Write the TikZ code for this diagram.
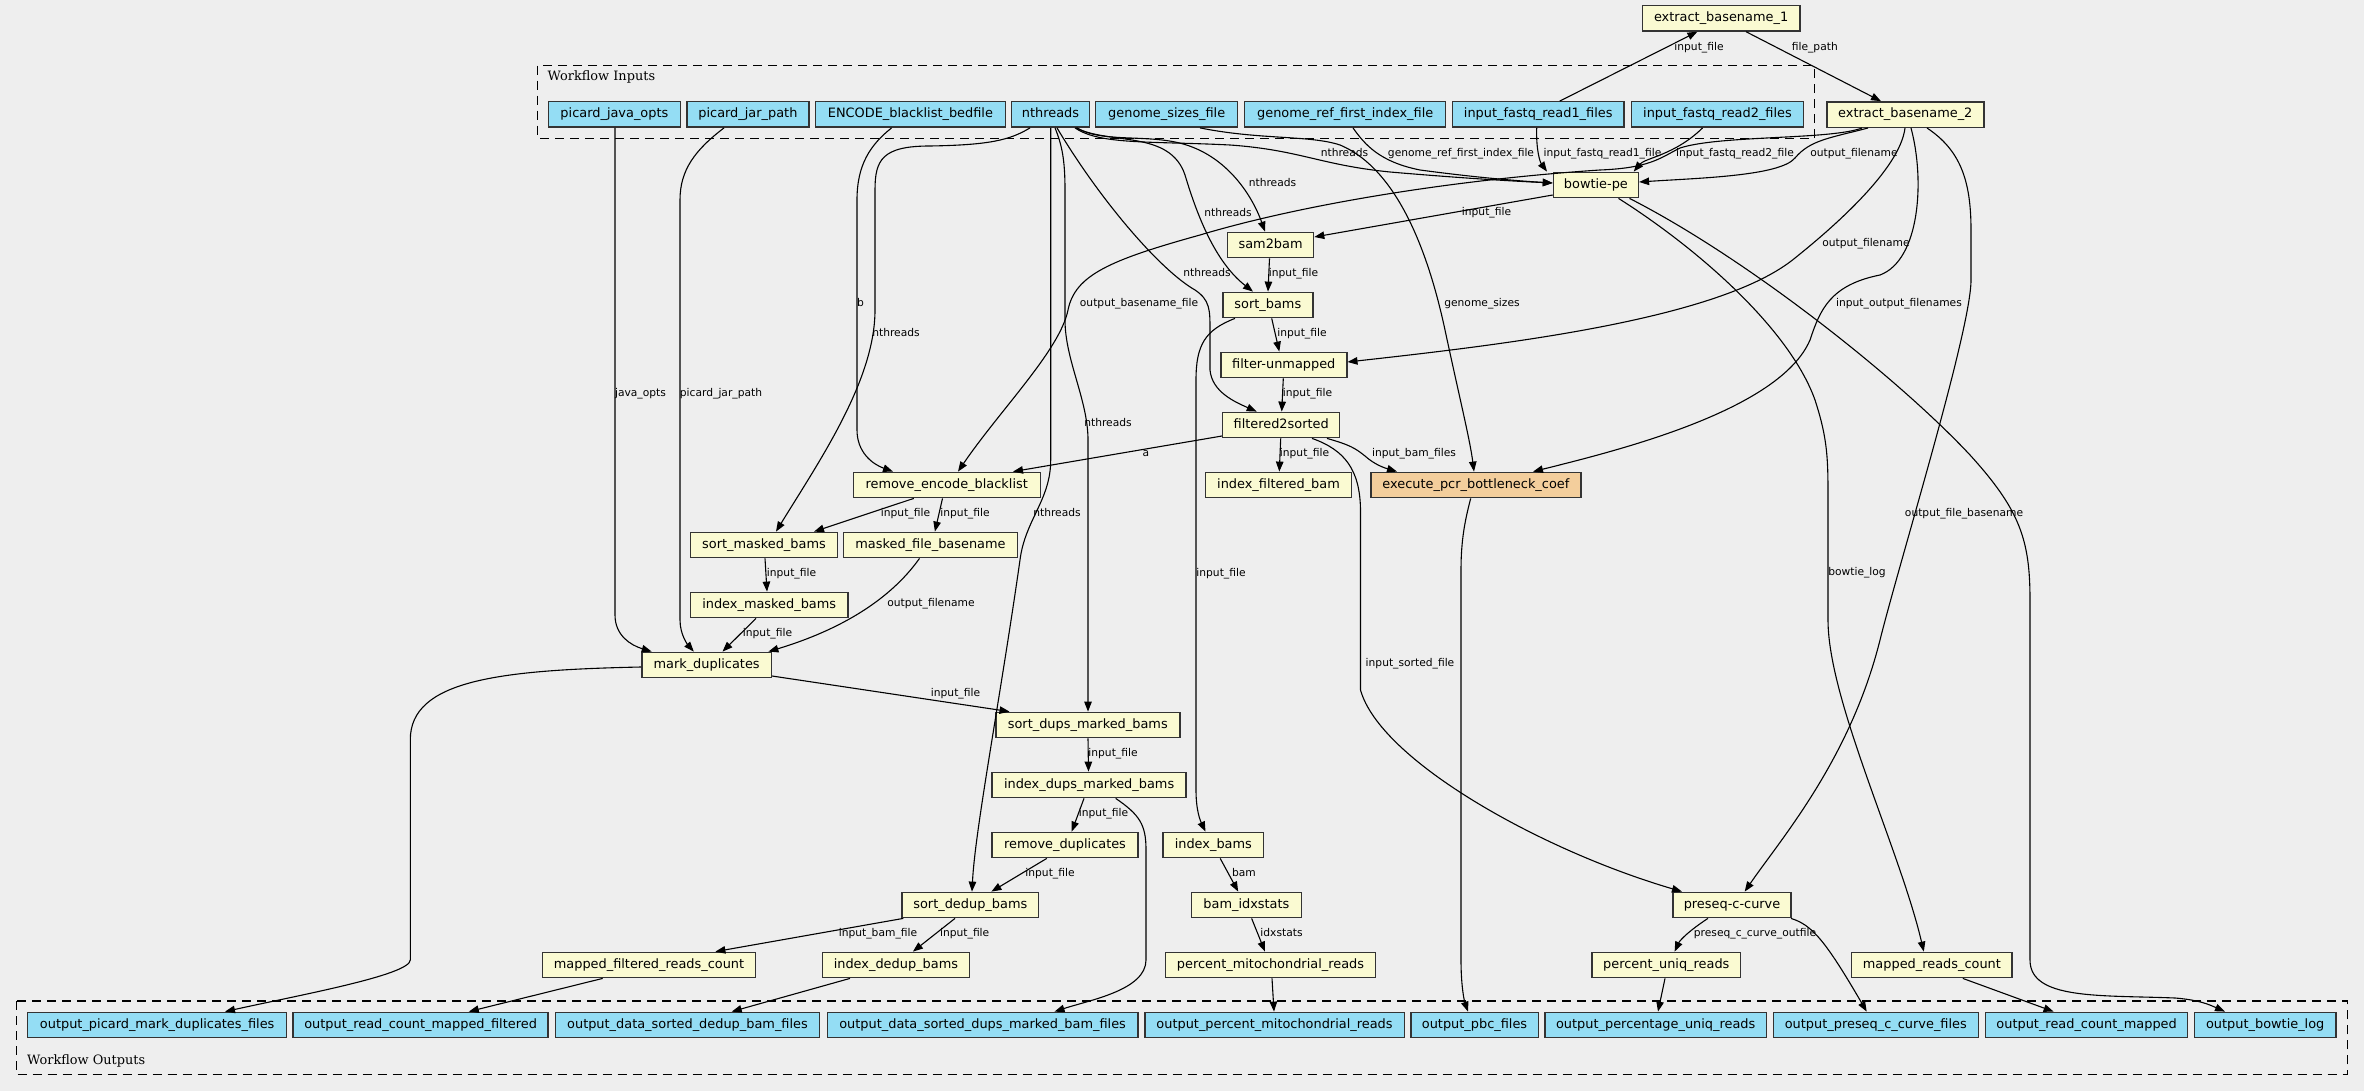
\documentclass[tikz,border=0pt]{standalone}
\usepackage{fontspec}
\usetikzlibrary{arrows.meta}
\newfontfamily\sansf{DejaVu Sans}
\newfontfamily\seriff{DejaVu Serif}
\definecolor{bgc}{HTML}{EEEEEE}
\definecolor{inblue}{HTML}{94DDF4}
\definecolor{stepyel}{HTML}{FAFAD2}
\definecolor{pcrorange}{HTML}{F3CE9C}
\definecolor{bord}{HTML}{333333}
\tikzset{
  box/.style={draw=bord, line width=1.4pt, minimum height=25.4pt, inner sep=0pt,
    font=\sansf\fontsize{12.9}{15}\selectfont, text height=9.6pt, text depth=2.9pt},
  iobox/.style={box, fill=inblue},
  stepbox/.style={box, fill=stepyel},
  pcrbox/.style={box, fill=pcrorange},
  lbl/.style={inner sep=0pt, font=\sansf\fontsize{10.7}{12}\selectfont, text height=7.8pt, text depth=2.4pt},
  edge/.style={draw=black, line width=1.1pt, -{Triangle[length=10pt,width=7.5pt]}},
  cluster/.style={draw=black, line width=1.2pt, dash pattern=on 9pt off 6pt},
  ctitle/.style={inner sep=0pt, anchor=west, font=\seriff\fontsize{12.9}{15}\selectfont}
}
\begin{document}
\begin{tikzpicture}[x=1pt,y=-1pt]
\fill[bgc] (0,0) rectangle (2364,1091);
\useasboundingbox (0,0) rectangle (2364,1091);

% clusters
\draw[cluster] (537.6,65.7) rectangle (1814.8,138.3);
\node[ctitle] (tin) at (547.5,77) {Workflow Inputs};
\draw[cluster] (16.3,1001) rectangle (2347.5,1074.6);
\node[ctitle] (tout) at (27,1061) {Workflow Outputs};

% inputs
\node[iobox, minimum width=132pt] (picard_java_opts) at (614.4,114.5) {picard\_java\_opts};
\node[iobox, minimum width=122pt] (picard_jar_path) at (747.9,114.5) {picard\_jar\_path};
\node[iobox, minimum width=190pt] (encode) at (910.4,114.5) {ENCODE\_blacklist\_bedfile};
\node[iobox, minimum width=78.5pt] (nthreads) at (1050.5,114.5) {nthreads};
\node[iobox, minimum width=142pt] (genome_sizes) at (1166.7,114.5) {genome\_sizes\_file};
\node[iobox, minimum width=201pt] (genome_ref) at (1345.2,114.5) {genome\_ref\_first\_index\_file};
\node[iobox, minimum width=171.5pt] (fastq1) at (1538.2,114.5) {input\_fastq\_read1\_files};
\node[iobox, minimum width=172pt] (fastq2) at (1717.5,114.5) {input\_fastq\_read2\_files};

% steps
\node[stepbox, minimum width=157.7pt] (eb1) at (1721.1,18.3) {extract\_basename\_1};
\node[stepbox, minimum width=157pt] (eb2) at (1905.3,114.6) {extract\_basename\_2};
\node[stepbox, minimum width=85pt] (bowtie) at (1595.9,185) {bowtie-pe};
\node[stepbox, minimum width=86pt] (sam2bam) at (1270.6,245) {sam2bam};
\node[stepbox, minimum width=90pt] (sort_bams) at (1267.8,305) {sort\_bams};
\node[stepbox, minimum width=126pt] (filter_unmapped) at (1283.8,365) {filter-unmapped};
\node[stepbox, minimum width=117pt] (filtered2sorted) at (1281.2,425) {filtered2sorted};
\node[stepbox, minimum width=187pt] (remove_encode) at (946.7,485) {remove\_encode\_blacklist};
\node[stepbox, minimum width=146pt] (index_filtered_bam) at (1278.5,485) {index\_filtered\_bam};
\node[pcrbox, minimum width=210pt] (execute_pcr) at (1475.9,485) {execute\_pcr\_bottleneck\_coef};
\node[stepbox, minimum width=147pt] (sort_masked_bams) at (764,545) {sort\_masked\_bams};
\node[stepbox, minimum width=174pt] (masked_file_basename) at (930.5,545) {masked\_file\_basename};
\node[stepbox, minimum width=157.4pt] (index_masked_bams) at (769.2,605) {index\_masked\_bams};
\node[stepbox, minimum width=129.5pt] (mark_duplicates) at (706.6,665) {mark\_duplicates};
\node[stepbox, minimum width=184pt] (sort_dups_marked_bams) at (1087.8,725) {sort\_dups\_marked\_bams};
\node[stepbox, minimum width=194pt] (index_dups_marked_bams) at (1089.1,785) {index\_dups\_marked\_bams};
\node[stepbox, minimum width=146.3pt] (remove_duplicates) at (1065,845) {remove\_duplicates};
\node[stepbox, minimum width=100.8pt] (index_bams) at (1213.3,845) {index\_bams};
\node[stepbox, minimum width=136.8pt] (sort_dedup_bams) at (970.3,905) {sort\_dedup\_bams};
\node[stepbox, minimum width=110.4pt] (bam_idxstats) at (1246.4,905) {bam\_idxstats};
\node[stepbox, minimum width=118pt] (preseq) at (1732,905) {preseq-c-curve};
\node[stepbox, minimum width=213pt] (mapped_filtered_reads_count) at (649,965) {mapped\_filtered\_reads\_count};
\node[stepbox, minimum width=147pt] (index_dedup_bams) at (895.9,965) {index\_dedup\_bams};
\node[stepbox, minimum width=210pt] (percent_mito) at (1270.5,965) {percent\_mitochondrial\_reads};
\node[stepbox, minimum width=148.5pt] (percent_uniq) at (1666.3,965) {percent\_uniq\_reads};
\node[stepbox, minimum width=160.5pt] (mapped_reads_count) at (1931.9,965) {mapped\_reads\_count};

% outputs
\node[iobox, minimum width=259pt] (out_picard) at (157.2,1025) {output\_picard\_mark\_duplicates\_files};
\node[iobox, minimum width=255pt] (out_rcmf) at (420.6,1025) {output\_read\_count\_mapped\_filtered};
\node[iobox, minimum width=264pt] (out_dedup) at (687.5,1025) {output\_data\_sorted\_dedup\_bam\_files};
\node[iobox, minimum width=310.5pt] (out_dups) at (982.6,1025) {output\_data\_sorted\_dups\_marked\_bam\_files};
\node[iobox, minimum width=259.4pt] (out_mito) at (1274.5,1025) {output\_percent\_mitochondrial\_reads};
\node[iobox, minimum width=127.4pt] (out_pbc) at (1474.5,1025) {output\_pbc\_files};
\node[iobox, minimum width=221.7pt] (out_uniq) at (1655.7,1025) {output\_percentage\_uniq\_reads};
\node[iobox, minimum width=205pt] (out_preseq) at (1875.8,1025) {output\_preseq\_c\_curve\_files};
\node[iobox, minimum width=202pt] (out_rcm) at (2086.6,1025) {output\_read\_count\_mapped};
\node[iobox, minimum width=141.8pt] (out_bowtie) at (2265.2,1025) {output\_bowtie\_log};

% edges
\draw[edge] (fastq1.north -| 1559.7,0) -- (eb1.south -| 1697.4,0);
\draw[edge] (eb1.south -| 1746,0) -- (eb2.north -| 1881,0);
\draw[edge] (nthreads.south -| 1075,0) .. controls (1100,145) and (1150,141) .. (1230,145) .. controls (1300,150) and (1320,165) .. (1390,172) .. controls (1460,178) and (1510,181) .. (bowtie.west |- 0,183);
\draw[edge] (nthreads.south -| 1077,0) .. controls (1100,142) and (1140,135) .. (1175,142) .. controls (1225,152) and (1252,195) .. (sam2bam.north -| 1265,0);
\draw[edge] (nthreads.south -| 1076,0) .. controls (1110,145) and (1170,130) .. (1185,175) .. controls (1197,215) and (1215,262) .. (sort_bams.north -| 1253,0);
\draw[edge] (nthreads.south -| 1057,0) .. controls (1100,200) and (1160,270) .. (1195,290) .. controls (1210,300) and (1210,310) .. (1210,330) -- (1210,370) .. controls (1212,392) and (1235,402) .. (filtered2sorted.north -| 1256.7,0);
\draw[edge] (nthreads.south -| 1030,0) .. controls (1010,140) and (990,145) .. (930,146) .. controls (882,146) and (875,160) .. (875,190) -- (875,310) .. controls (875,380) and (820,460) .. (sort_masked_bams.north -| 776,0);
\draw[edge] (nthreads.south -| 1055,0) .. controls (1062,145) and (1065,160) .. (1065,190) -- (1065,320) .. controls (1065,360) and (1088,400) .. (1088,440) -- (sort_dups_marked_bams.north -| 1088,0);
\draw[edge] (nthreads.south -| 1050.7,0) -- (1050.7,460) .. controls (1050.7,500) and (1025,520) .. (1020,560) .. controls (1000,700) and (975,830) .. (sort_dedup_bams.north -| 972,0);
\draw[edge] (encode.south -| 891.6,0) .. controls (870,145) and (857,165) .. (857,200) -- (857,430) .. controls (857,452) and (872,464) .. (remove_encode.north -| 893,0);
\draw[edge] (genome_sizes.south -| 1200,0) .. controls (1260,140) and (1310,135) .. (1340,145) .. controls (1400,170) and (1430,260) .. (1445,330) .. controls (1460,400) and (1470,440) .. (execute_pcr.north -| 1474,0);
\draw[edge] (genome_ref.south -| 1353,0) .. controls (1365,145) and (1380,162) .. (1420,170) .. controls (1480,178) and (1520,181) .. (bowtie.west |- 0,183);
\draw[edge] (fastq1.south -| 1536.7,0) .. controls (1536,150) and (1540,162) .. (bowtie.north -| 1547,0);
\draw[edge] (fastq2.south -| 1702.6,0) .. controls (1675,155) and (1645,158) .. (bowtie.north -| 1633.7,0);
\draw[edge] (eb2.south -| 1868,0) .. controls (1830,138) and (1810,140) .. (1795,158) .. controls (1780,176) and (1700,178) .. (bowtie.east |- 0,182);
\draw[edge] (eb2.south -| 1862,0) .. controls (1830,140) and (1720,135) .. (1680,148) .. controls (1660,158) and (1650,168) .. (1600,170) .. controls (1450,180) and (1300,205) .. (1200,235) .. controls (1110,260) and (1075,275) .. (1068,310) .. controls (1060,350) and (1000,410) .. (remove_encode.north -| 958,0);
\draw[edge] (eb2.south -| 1905,0) .. controls (1900,170) and (1830,230) .. (1795,258) .. controls (1720,320) and (1500,345) .. (filter_unmapped.east |- 0,362);
\draw[edge] (eb2.south -| 1911,0) .. controls (1925,180) and (1920,260) .. (1880,275) .. controls (1830,285) and (1820,310) .. (1810,340) .. controls (1780,410) and (1620,450) .. (execute_pcr.north -| 1533,0);
\draw[edge] (eb2.south -| 1927,0) .. controls (1960,150) and (1971,180) .. (1971,230) -- (1971,280) .. controls (1971,330) and (1900,560) .. (1880,640) .. controls (1850,760) and (1780,840) .. (preseq.north -| 1744.7,0);
\draw[edge] (bowtie.west |- 0,195) -- (sam2bam.east |- 0,237);
\draw[edge] (bowtie.south -| 1618.5,0) .. controls (1700,250) and (1790,330) .. (1815,400) .. controls (1828,440) and (1828,460) .. (1828,500) -- (1828,620) .. controls (1828,700) and (1900,850) .. (mapped_reads_count.north -| 1923.8,0);
\draw[edge] (bowtie.south -| 1629.5,0) .. controls (1750,260) and (1900,380) .. (1970,455) .. controls (2020,510) and (2030,540) .. (2030,600) -- (2030,960) .. controls (2030,1000) and (2100,995) .. (2175,998) .. controls (2200,1000) and (2210,1005) .. (out_bowtie.north -| 2225,0);
\draw[edge] (sam2bam.south -| 1269.5,0) -- (sort_bams.north -| 1268,0);
\draw[edge] (sort_bams.south -| 1271.7,0) -- (filter_unmapped.north -| 1279.3,0);
\draw[edge] (filter_unmapped.south -| 1283.3,0) -- (filtered2sorted.north -| 1281.7,0);
\draw[edge] (sort_bams.south -| 1235,0) .. controls (1205,330) and (1196,345) .. (1196,380) -- (1196,790) .. controls (1196,810) and (1200,820) .. (index_bams.north -| 1205.5,0);
\draw[edge] (filtered2sorted.west |- 0,436) -- (remove_encode.north -| 1013,0);
\draw[edge] (filtered2sorted.south -| 1280.7,0) -- (index_filtered_bam.north -| 1279.3,0);
\draw[edge] (filtered2sorted.south -| 1327,0) .. controls (1350,445) and (1355,448) .. (1365,456) .. controls (1375,465) and (1385,468) .. (execute_pcr.north -| 1397,0);
\draw[edge] (filtered2sorted.south -| 1312,0) .. controls (1345,450) and (1360,470) .. (1360.5,510) -- (1360.5,690) .. controls (1380,760) and (1540,850) .. (preseq.north -| 1682,0);
\draw[edge] (execute_pcr.south -| 1470.7,0) .. controls (1465,520) and (1461,540) .. (1461,570) -- (1461,960) .. controls (1461,985) and (1464,1000) .. (out_pbc.north -| 1468,0);
\draw[edge] (remove_encode.south -| 913.8,0) -- (sort_masked_bams.north -| 814,0);
\draw[edge] (remove_encode.south -| 942.5,0) -- (masked_file_basename.north -| 934.9,0);
\draw[edge] (sort_masked_bams.south -| 765,0) -- (index_masked_bams.north -| 767,0);
\draw[edge] (index_masked_bams.south -| 756,0) -- (mark_duplicates.north -| 722.5,0);
\draw[edge] (masked_file_basename.south -| 919.5,0) .. controls (890,600) and (840,630) .. (mark_duplicates.north -| 768.4,0);
\draw[edge] (picard_java_opts.south -| 615,0) -- (615,615) .. controls (615,635) and (630,645) .. (mark_duplicates.north -| 651.7,0);
\draw[edge] (picard_jar_path.south -| 724,0) .. controls (695,150) and (680,170) .. (680,200) -- (680,620) .. controls (680,635) and (688,645) .. (mark_duplicates.north -| 693.8,0);
\draw[edge] (mark_duplicates.east |- 0,676) -- (sort_dups_marked_bams.north -| 1009.5,0);
\draw[edge] (mark_duplicates.west |- 0,667) .. controls (500,670) and (410,680) .. (410.3,740) -- (410.3,960) .. controls (410,975) and (300,995) .. (out_picard.north -| 225,0);
\draw[edge] (sort_dups_marked_bams.south -| 1088,0) -- (index_dups_marked_bams.north -| 1088.5,0);
\draw[edge] (index_dups_marked_bams.south -| 1084,0) -- (remove_duplicates.north -| 1071.7,0);
\draw[edge] (index_dups_marked_bams.south -| 1115.7,0) .. controls (1140,815) and (1146,825) .. (1146,850) -- (1146,960) .. controls (1146,990) and (1090,1000) .. (out_dups.north -| 1054.5,0);
\draw[edge] (remove_duplicates.south -| 1046.8,0) -- (sort_dedup_bams.north -| 991.4,0);
\draw[edge] (index_bams.south -| 1220.2,0) -- (bam_idxstats.north -| 1238.2,0);
\draw[edge] (sort_dedup_bams.south -| 903.3,0) -- (mapped_filtered_reads_count.north -| 715.4,0);
\draw[edge] (sort_dedup_bams.south -| 955,0) -- (index_dedup_bams.north -| 912.9,0);
\draw[edge] (bam_idxstats.south -| 1251.6,0) -- (percent_mito.north -| 1265,0);
\draw[edge] (preseq.south -| 1708,0) .. controls (1690,930) and (1680,940) .. (percent_uniq.north -| 1674.6,0);
\draw[edge] (preseq.south -| 1791,0) .. controls (1812,925) and (1825,940) .. (out_preseq.north -| 1866.7,0);
\draw[edge] (mapped_filtered_reads_count.south -| 602.7,0) -- (out_rcmf.north -| 468.8,0);
\draw[edge] (index_dedup_bams.south -| 850,0) -- (out_dedup.north -| 731.7,0);
\draw[edge] (percent_mito.south -| 1272,0) -- (out_mito.north -| 1274,0);
\draw[edge] (percent_uniq.south -| 1665,0) -- (out_uniq.north -| 1658,0);
\draw[edge] (mapped_reads_count.south -| 1962.8,0) -- (out_rcm.north -| 2053.6,0);

% edge labels
\node[lbl] (l1) at (1699,47.7) {input\_file};
\node[lbl] (l2) at (1814.8,47.7) {file\_path};
\node[lbl] (l3) at (1344.5,154) {nthreads};
\node[lbl] (l4) at (1272.5,184) {nthreads};
\node[lbl] (l5) at (1228,214) {nthreads};
\node[lbl] (l6) at (1207,274) {nthreads};
\node[lbl] (l7) at (896,334) {nthreads};
\node[lbl] (l8) at (1108,424) {nthreads};
\node[lbl] (l9) at (1057,514) {nthreads};
\node[lbl] (l10) at (1461,154) {genome\_ref\_first\_index\_file};
\node[lbl] (l11) at (1602.5,154) {input\_fastq\_read1\_file};
\node[lbl] (l12) at (1735,154) {input\_fastq\_read2\_file};
\node[lbl] (l13) at (1854,154) {output\_filename};
\node[lbl] (l14) at (1486.5,213) {input\_file};
\node[lbl] (l15) at (1866,244) {output\_filename};
\node[lbl] (l16) at (1899,304) {input\_output\_filenames};
\node[lbl] (l17) at (1139,304) {output\_basename\_file};
\node[lbl] (l18) at (860.5,304) {b};
\node[lbl] (l19) at (1482,304) {genome\_sizes};
\node[lbl] (l20) at (1293.5,274) {input\_file};
\node[lbl] (l21) at (1302,334) {input\_file};
\node[lbl] (l22) at (1307.5,394) {input\_file};
\node[lbl] (l23) at (640.5,394) {java\_opts};
\node[lbl] (l24) at (721,394) {picard\_jar\_path};
\node[lbl] (l25) at (1146,454) {a};
\node[lbl] (l26) at (1304.5,454) {input\_file};
\node[lbl] (l27) at (1414,454) {input\_bam\_files};
\node[lbl] (l28) at (905.5,514) {input\_file};
\node[lbl] (l29) at (965,514) {input\_file};
\node[lbl] (l30) at (1857,573) {bowtie\_log};
\node[lbl] (l31) at (1221,574) {input\_file};
\node[lbl] (l32) at (791.5,574) {input\_file};
\node[lbl] (l33) at (931,604) {output\_filename};
\node[lbl] (l34) at (767.5,634) {input\_file};
\node[lbl] (l35) at (1410,664) {input\_sorted\_file};
\node[lbl] (l36) at (955.5,694) {input\_file};
\node[lbl] (l37) at (1113,754) {input\_file};
\node[lbl] (l38) at (1103.5,814) {input\_file};
\node[lbl] (l39) at (1050,874) {input\_file};
\node[lbl] (l40) at (1244,874) {bam};
\node[lbl] (l41) at (878,934) {input\_bam\_file};
\node[lbl] (l42) at (964.7,934) {input\_file};
\node[lbl] (l43) at (1281.5,934) {idxstats};
\node[lbl] (l44) at (1755,934) {preseq\_c\_curve\_outfile};
\node[lbl] (l45) at (1964,514) {output\_file\_basename};
\end{tikzpicture}
\end{document}
